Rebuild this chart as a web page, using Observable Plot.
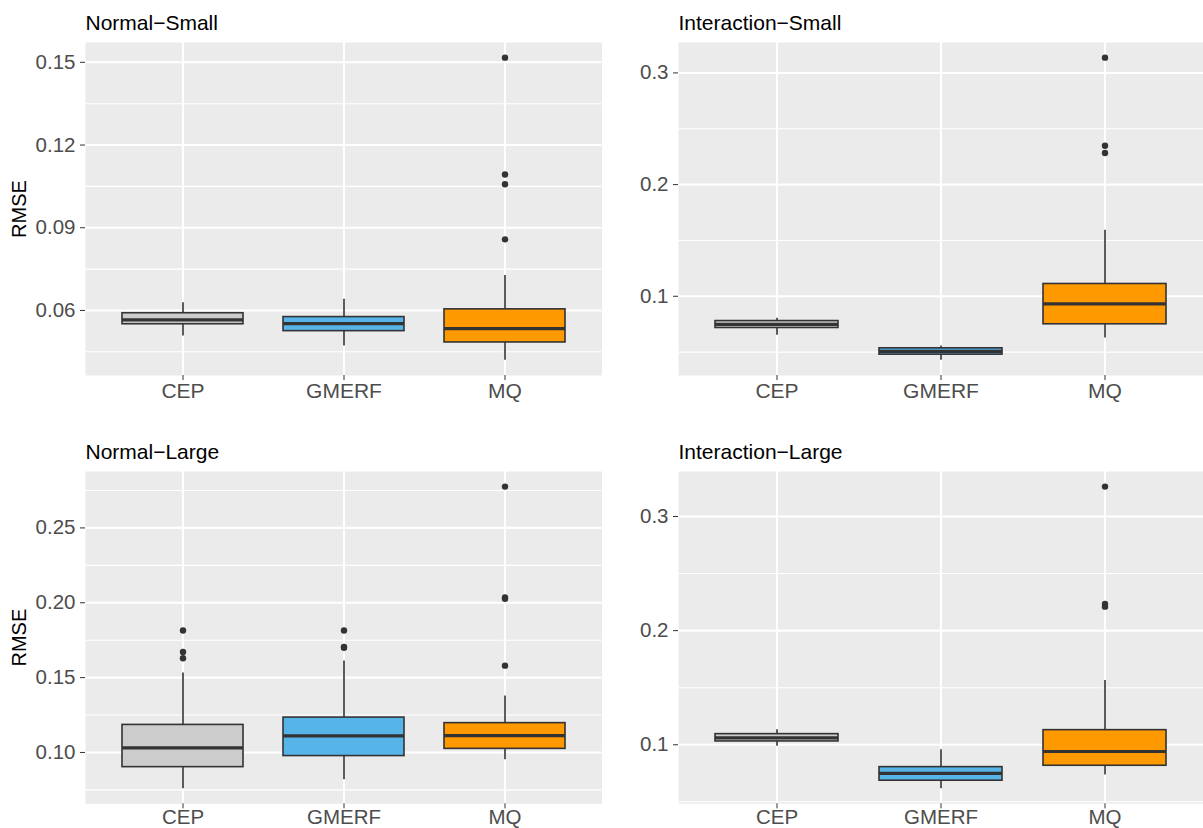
<!DOCTYPE html>
<html>
<head>
<meta charset="utf-8">
<script src="https://cdn.jsdelivr.net/npm/d3@7"></script>
<script src="https://cdn.jsdelivr.net/npm/@observablehq/plot@0.6"></script>
<style>
html, body { margin: 0; padding: 0; background: #ffffff; }
#chart { position: relative; width: 1203px; height: 828px; overflow: hidden; background: #ffffff;
  font-family: "Liberation Sans", Arial, Helvetica, sans-serif; }
#chart svg { position: absolute; }
</style>
</head>
<body>
<div id="chart"></div>
<script>
// ---------- data ----------
const categories = ["CEP", "GMERF", "MQ"];
const panelTitles = ["Normal\u2212Small", "Interaction\u2212Small", "Normal\u2212Large", "Interaction\u2212Large"];
const yLabel = "RMSE";

// Normal-Small
const nsLower  = [0.0507, 0.0471, 0.0419];
const nsQ1     = [0.0550, 0.0525, 0.0484];
const nsMedian = [0.0566, 0.0552, 0.0534];
const nsQ3     = [0.0590, 0.0576, 0.0604];
const nsUpper  = [0.0628, 0.0641, 0.0727];
const nsOutlierCat = ["MQ", "MQ", "MQ", "MQ"];
const nsOutlierVal = [0.1517, 0.1093, 0.1058, 0.0858];
const nsTicks = [0.06, 0.09, 0.12, 0.15];
const nsTickLabels = ["0.06", "0.09", "0.12", "0.15"];
const nsMinor = [0.045, 0.075, 0.105, 0.135];

// Interaction-Small
const isLower  = [0.0650, 0.0426, 0.0626];
const isQ1     = [0.0716, 0.0477, 0.0749];
const isMedian = [0.0749, 0.0507, 0.0931];
const isQ3     = [0.0778, 0.0534, 0.1110];
const isUpper  = [0.0803, 0.0554, 0.1592];
const isOutlierCat = ["MQ", "MQ", "MQ"];
const isOutlierVal = [0.3137, 0.2348, 0.2283];
const isTicks = [0.1, 0.2, 0.3];
const isTickLabels = ["0.1", "0.2", "0.3"];
const isMinor = [0.05, 0.15, 0.25];

// Normal-Large
const nlLower  = [0.0758, 0.0818, 0.0951];
const nlQ1     = [0.0902, 0.0976, 0.1024];
const nlMedian = [0.1031, 0.1111, 0.1113];
const nlQ3     = [0.1184, 0.1233, 0.1196];
const nlUpper  = [0.1531, 0.1611, 0.1378];
const nlOutlierCat = ["CEP", "CEP", "CEP", "GMERF", "GMERF", "GMERF", "MQ", "MQ", "MQ", "MQ"];
const nlOutlierVal = [0.1815, 0.1671, 0.1629, 0.1815, 0.1705, 0.1700, 0.2776, 0.2036, 0.2027, 0.1580];
const nlTicks = [0.10, 0.15, 0.20, 0.25];
const nlTickLabels = ["0.10", "0.15", "0.20", "0.25"];
const nlMinor = [0.075, 0.125, 0.175, 0.225, 0.275];

// Interaction-Large
const ilLower  = [0.0988, 0.0615, 0.0734];
const ilQ1     = [0.1029, 0.0685, 0.0816];
const ilMedian = [0.1061, 0.0749, 0.0941];
const ilQ3     = [0.1093, 0.0804, 0.1128];
const ilUpper  = [0.1131, 0.0956, 0.1563];
const ilOutlierCat = ["MQ", "MQ", "MQ"];
const ilOutlierVal = [0.3262, 0.2234, 0.2210];
const ilTicks = [0.1, 0.2, 0.3];
const ilTickLabels = ["0.1", "0.2", "0.3"];
const ilMinor = [0.05, 0.15, 0.25];

// ---------- styles ----------
const fills = ["#CCCCCC", "#56B4E9", "#FF9900"];
const panelBg = "#EBEBEB";
const ink = "#333333";
const tickText = "#4D4D4D";

const panels = [
  {title: panelTitles[0], lower: nsLower, q1: nsQ1, median: nsMedian, q3: nsQ3, upper: nsUpper,
   outCat: nsOutlierCat, outVal: nsOutlierVal, ticks: nsTicks, tickLabels: nsTickLabels, minor: nsMinor,
   left: 0, top: 0, width: 602, height: 414, mL: 85, mR: 0.5, mT: 42, mB: 39, ylab: true, xPad: 3, xFont: 21},
  {title: panelTitles[1], lower: isLower, q1: isQ1, median: isMedian, q3: isQ3, upper: isUpper,
   outCat: isOutlierCat, outVal: isOutlierVal, ticks: isTicks, tickLabels: isTickLabels, minor: isMinor,
   left: 601, top: 0, width: 602, height: 414, mL: 77, mR: 0, mT: 42, mB: 39, ylab: false, xPad: 3, xFont: 21},
  {title: panelTitles[2], lower: nlLower, q1: nlQ1, median: nlMedian, q3: nlQ3, upper: nlUpper,
   outCat: nlOutlierCat, outVal: nlOutlierVal, ticks: nlTicks, tickLabels: nlTickLabels, minor: nlMinor,
   left: 0, top: 429, width: 602, height: 399, mL: 85, mR: 0.5, mT: 42, mB: 24.7, ylab: true, xPad: 1, xFont: 20.5},
  {title: panelTitles[3], lower: ilLower, q1: ilQ1, median: ilMedian, q3: ilQ3, upper: ilUpper,
   outCat: ilOutlierCat, outVal: ilOutlierVal, ticks: ilTicks, tickLabels: ilTickLabels, minor: ilMinor,
   left: 601, top: 429, width: 602, height: 399, mL: 77, mR: 0, mT: 42, mB: 24.7, ylab: false, xPad: 1, xFont: 20.5}
];

const chart = document.getElementById("chart");

for (const p of panels) {
  const stats = categories.map((c, i) => ({cat: c, lo: p.lower[i], q1: p.q1[i], med: p.median[i], q3: p.q3[i], hi: p.upper[i]}));
  const outs = p.outCat.map((c, i) => ({cat: c, v: p.outVal[i]}));
  const all = [...p.lower, ...p.upper, ...p.outVal];
  const mn = d3.min(all), mx = d3.max(all), pad = (mx - mn) * 0.05;
  const labelMap = new Map(p.ticks.map((t, i) => [t, p.tickLabels[i]]));

  const marks = [
    Plot.frame({fill: panelBg}),
    Plot.ruleY(p.minor, {y: d => d, stroke: "#ffffff", strokeWidth: 1.1}),
    Plot.ruleY(p.ticks, {y: d => d, stroke: "#ffffff", strokeWidth: 2.1}),
    Plot.gridX({stroke: "#ffffff", strokeOpacity: 1, strokeWidth: 2.1}),
    Plot.ruleX(stats, {x: "cat", y1: "q3", y2: "hi", stroke: ink, strokeWidth: 1.6}),
    Plot.ruleX(stats, {x: "cat", y1: "lo", y2: "q1", stroke: ink, strokeWidth: 1.6}),
    Plot.barY(stats, {x: "cat", y1: "q1", y2: "q3", fill: "cat", stroke: ink, strokeWidth: 1.6}),
    Plot.tickY(stats, {x: "cat", y: "med", stroke: ink, strokeWidth: 3.2}),
    Plot.dot(outs, {x: "cat", y: "v", r: 3.2, fill: ink, stroke: null}),
    Plot.axisX({tickSize: 5, tickPadding: p.xPad, stroke: ink, fill: tickText, fontSize: p.xFont, label: null}),
    Plot.axisY(p.ticks, {tickSize: 5, tickPadding: 5, tickFormat: d => labelMap.get(d), stroke: ink, fill: tickText, fontSize: 20.5, label: null}),
    Plot.text([p.title], {text: d => d, frameAnchor: "top-left", dy: -13, lineAnchor: "bottom", textAnchor: "start", fontSize: 21, fill: "#000000"})
  ];
  if (p.ylab) {
    marks.push(Plot.text([yLabel], {text: d => d, frameAnchor: "left", dx: -65.5, rotate: -90, textAnchor: "middle", lineAnchor: "middle", fontSize: 20, fill: "#000000"}));
  }

  const svg = Plot.plot({
    width: p.width,
    height: p.height,
    marginLeft: p.mL,
    marginRight: p.mR,
    marginTop: p.mT,
    marginBottom: p.mB,
    style: {fontFamily: "\"Liberation Sans\", Arial, Helvetica, sans-serif", background: "transparent", overflow: "visible"},
    x: {type: "band", domain: categories, paddingInner: 0.25, paddingOuter: 0.225, align: 0.5},
    y: {domain: [mn - pad, mx + pad]},
    color: {domain: categories, range: fills},
    marks
  });
  svg.style.left = p.left + "px";
  svg.style.top = p.top + "px";
  chart.appendChild(svg);
}
</script>
</body>
</html>
